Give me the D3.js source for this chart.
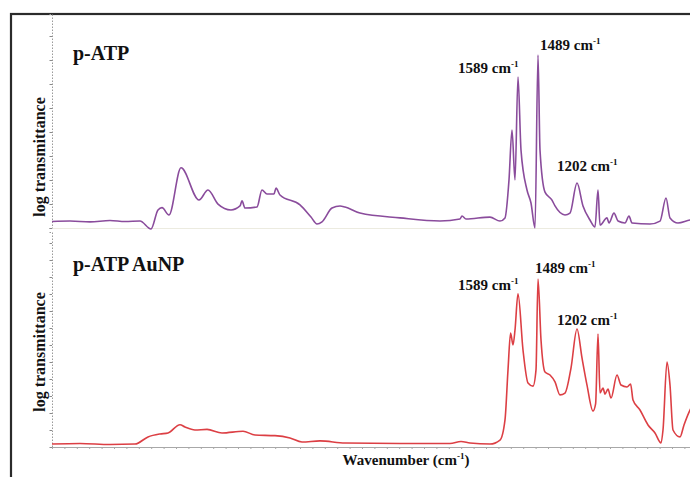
<!DOCTYPE html>
<html>
<head>
<meta charset="utf-8">
<script src="https://cdn.jsdelivr.net/npm/d3@7"></script>
<style>
  body { margin: 0; background: #fff; }
  svg { display: block; }
  text { font-family: "Liberation Serif", "Times New Roman", serif; font-weight: bold; fill: #111; }
</style>
</head>
<body>
<svg id="chart" width="690" height="477"></svg>
<script>
(function() {

// wavenumber (cm-1) / relative log transmittance
const wnTop = [3920, 3830, 3730, 3630, 3555, 3480, 3425, 3390, 3370, 3335, 3275, 3185, 3140, 3090, 3025,
    2980, 2970, 2955, 2895, 2870, 2845, 2810, 2800, 2780, 2680, 2625, 2595, 2570, 2520, 2480, 2455, 2380,
    2180, 1980, 1880, 1870, 1850, 1730, 1680, 1655, 1635, 1620, 1605, 1590, 1575, 1545, 1525, 1505, 1490,
    1480, 1455, 1420, 1405, 1355, 1330, 1295, 1265, 1230, 1205, 1190, 1180, 1145, 1135, 1110, 1090, 1055,
    1035, 1020, 930, 880, 850, 830, 790, 730, 700];
const valTop = [3.1, 3.3, 2.9, 3.6, 3.1, 3.3, -0.5, 8.6, 9.7, 6.2, 28.7, 13.3, 18.1, 11.4, 8.6,
    10.5, 12.9, 9.5, 10.0, 18.1, 16.2, 16.2, 19.0, 15.7, 11.0, 5.2, 1.9, 2.9, 9.5, 10.5, 10.0, 7.1,
    4.8, 3.3, 4.3, 5.7, 4.3, 5.2, 3.3, 4.8, 22.9, 46.7, 22.9, 71.9, 37.1, 18.1, 11.9, 0, 82.4,
    37.1, 17.1, 13.3, 10.5, 6.2, 7.1, 21.4, 10.5, 3.8, 0.5, 18.1, 1.4, 4.8, 2.4, 7.1, 3.3, 2.4,
    5.7, 2.4, 1.9, 3.3, 14.3, 4.8, 2.4, 3.8, 4.0];

const wnBottom = [3920, 3780, 3630, 3505, 3440, 3380, 3340, 3280, 3255, 3205, 3145, 3070, 2965, 2905, 2805,
    2730, 2670, 2580, 2455, 2180, 1930, 1875, 1830, 1730, 1680, 1655, 1640, 1627, 1615, 1605, 1590, 1565,
    1540, 1515, 1500, 1490, 1475, 1455, 1430, 1405, 1380, 1355, 1325, 1295, 1270, 1245, 1215, 1202, 1190,
    1180, 1165, 1155, 1140, 1125, 1095, 1075, 1045, 1027, 1015, 980, 940, 905, 875, 865, 845, 830, 815,
    780, 760, 730, 700];
const valBottom = [1.4, 1.7, 1.2, 1.4, 4.8, 6.2, 6.7, 10.6, 9.5, 8.1, 8.4, 6.7, 7.5, 5.7, 5.4,
    4.3, 2.4, 2.9, 1.9, 1.7, 1.7, 2.6, 1.9, 1.4, 3.3, 12.9, 36.7, 54.3, 48.6, 55.7, 72.9, 46.2,
    30.5, 29.0, 36.7, 80.0, 51.0, 35.7, 34.3, 31.0, 24.8, 25.7, 37.6, 56.2, 42.4, 29.5, 17.1, 20.5, 53.8,
    25.7, 28.1, 25.2, 27.6, 23.3, 34.3, 29.5, 28.6, 30.0, 22.4, 17.6, 10.5, 6.7, 1.9, 8.1, 40.5, 29.5, 8.1,
    4.8, 10.5, 17.6, 22.0];

// peak annotations: label, wavenumber anchor (left edge), value at baseline
const peakLabels = ["1589", "1489", "1202"];
const peakWnTop = [1890, 1480, 1395];
const peakValTop = [74, 85, 27];
const peakWnBottom = [1890, 1505, 1395];
const peakValBottom = [75, 83, 58];

const panelNames = ["p-ATP", "p-ATP AuNP"];
const colors = ["#8a4c9c", "#dc3f44"];

const svg = d3.select("#chart");

const x = d3.scaleLinear().domain([3920, 700]).range([52, 696]);

const panels = [
    { top: 14, y: d3.scaleLinear().domain([0, 100]).range([228, 18]), tickStep: 24,
      wn: wnTop, val: valTop, pwn: peakWnTop, pval: peakValTop, labelY: 60, axisY: 228, titleMid: 157 },
    { top: 232, y: d3.scaleLinear().domain([0, 100]).range([447, 237]), tickStep: 17,
      wn: wnBottom, val: valBottom, pwn: peakWnBottom, pval: peakValBottom, labelY: 271, axisY: 447, titleMid: 352 }
];

/**
 * Outer frame
 */
svg.append("rect")
    .attr("x", 11).attr("y", 14)
    .attr("width", 700).attr("height", 480)
    .attr("fill", "none")
    .attr("stroke", "#2b2b2b")
    .attr("stroke-width", 2.2);

panels.forEach(function(p, i) {
    const g = svg.append("g").attr("class", "panel-" + i);

    // dotted vertical axis with small ticks
    const yAxis = d3.axisLeft(d3.scaleLinear().domain([p.top, p.axisY]).range([p.top, p.axisY]))
        .tickValues(d3.range(p.axisY, p.top, -p.tickStep))
        .tickSize(2.5)
        .tickFormat("");
    g.append("g")
        .attr("transform", "translate(52,0)")
        .call(yAxis)
        .call(a => a.select(".domain").attr("stroke", "#9a9a9a").attr("stroke-dasharray", "1.5,1.5"))
        .call(a => a.selectAll(".tick line").attr("stroke", "#8a8a8a"));

    // horizontal axis
    const xAxis = d3.axisBottom(x)
        .tickValues(d3.range(3920, 700, -62))
        .tickSize(i === 1 ? 2 : 0)
        .tickSizeOuter(0)
        .tickFormat("");
    g.append("g")
        .attr("transform", "translate(0," + p.axisY + ")")
        .call(xAxis)
        .call(a => a.select(".domain").attr("stroke", i === 1 ? "#a8a8a8" : "#ecebe0"))
        .call(a => a.selectAll(".tick line").attr("stroke", "#a8a8a8"));

    // spectrum
    const pts = p.wn.map((w, k) => [w, p.val[k]]);
    g.append("path")
        .datum(pts)
        .attr("fill", "none")
        .attr("stroke", colors[i])
        .attr("stroke-width", 1.6)
        .attr("stroke-linejoin", "round")
        .attr("d", d3.line()
            .x(d => x(d[0]))
            .y(d => p.y(d[1]))
            .curve(d3.curveMonotoneX));

    // panel name
    g.append("text")
        .attr("x", 73)
        .attr("y", p.labelY)
        .attr("font-size", 20)
        .text(panelNames[i]);

    // y title
    g.append("text")
        .attr("transform", "translate(45," + p.titleMid + ") rotate(-90)")
        .attr("text-anchor", "middle")
        .attr("font-size", 16)
        .text("log transmittance");

    // peak labels
    peakLabels.forEach(function(lbl, k) {
        const t = g.append("text")
            .attr("x", x(p.pwn[k]))
            .attr("y", p.y(p.pval[k]))
            .attr("font-size", 15);
        t.append("tspan").text(lbl + " cm");
        t.append("tspan").attr("font-size", 9).attr("dy", -6).text("-1");
    });
});

// x title
const xt = svg.append("text")
    .attr("x", 406)
    .attr("y", 465)
    .attr("text-anchor", "middle")
    .attr("font-size", 15);
xt.append("tspan").text("Wavenumber (cm");
xt.append("tspan").attr("font-size", 9).attr("dy", -6).text("-1");
xt.append("tspan").attr("dy", 6).text(")");

})();
</script>
</body>
</html>
